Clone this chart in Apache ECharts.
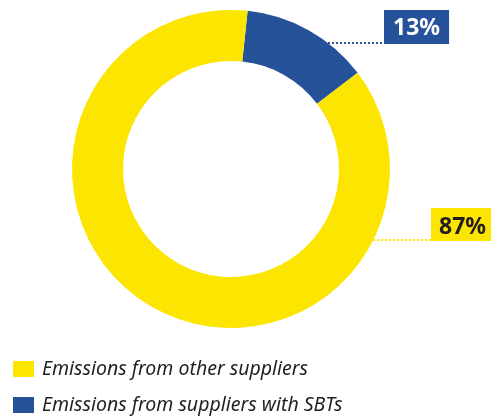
<!DOCTYPE html>
<html>
<head>
<meta charset="utf-8">
<script src="https://cdn.jsdelivr.net/npm/echarts@6/dist/echarts.min.js"></script>
<style>
  html, body { margin: 0; padding: 0; background: #fff; }
  #main { width: 498px; height: 417px; }
</style>
</head>
<body>
<div id="main"></div>
<script>
// 数据
var categories = ['Emissions from other suppliers', 'Emissions from suppliers with SBTs'];
var shares = [87, 13];
var colors = ['#fce500', '#26529a'];
var labelText = ['#231f20', '#ffffff'];

var myChart = echarts.init(document.getElementById('main'));
var cx = 231, cy = 169, R = 159;
// 标签框位置 (左, 下) —— 按饼图数据顺序: 蓝, 黄
var labelBox = [[384, 44], [431, 241]];

// 蓝色在前, 顺时针
var order = [1, 0];
var pieData = order.map(function (i) {
    return {
        value: shares[i],
        name: categories[i],
        itemStyle: { color: colors[i] },
        label: {
            color: labelText[i],
            backgroundColor: colors[i],
            padding: i === 1 ? [6, 9, 4, 9] : [7, 5, 2, 8]
        },
        labelLine: { lineStyle: { color: colors[i] } }
    };
});

// 图例: 每项一个, 竖排
var legends = categories.map(function (name, i) {
    return {
        orient: 'vertical',
        left: 8,
        top: 354 + i * 36,
        itemWidth: 21,
        itemHeight: 16,
        itemGap: 8,
        icon: 'rect',
        selectedMode: false,
        data: [name],
        textStyle: {
            fontFamily: 'Noto Sans',
            fontStyle: 'italic',
            fontSize: 19.5,
            color: '#231f20',
            padding: [0, 0, 0, 3]
        }
    };
});

var option = {
    backgroundColor: '#fff',
    animation: false,
    legend: legends,
    series: [{
        type: 'pie',
        center: [cx, cy],
        radius: [108, R],
        startAngle: 84,
        clockwise: true,
        avoidLabelOverlap: false,
        silent: true,
        emphasis: { disabled: true },
        label: {
            show: true,
            position: 'outside',
            formatter: '{c}%',
            fontFamily: 'Noto Sans',
            fontWeight: 'bold',
            fontSize: 23,
            lineHeight: 24
        },
        labelLine: {
            show: true,
            length: 5,
            length2: 5,
            lineStyle: { width: 2, type: [2, 2] }
        },
        labelLayout: function (params) {
            var b = labelBox[params.dataIndex];
            var ly = b[1] - 1;
            var ex = cx + Math.sqrt(R * R - (ly - cy) * (ly - cy));
            return {
                x: b[0],
                y: b[1],
                align: 'left',
                verticalAlign: 'bottom',
                labelLinePoints: [[ex, ly], [b[0], ly], [b[0], ly]]
            };
        },
        data: pieData
    }]
};
myChart.setOption(option);
</script>
</body>
</html>
